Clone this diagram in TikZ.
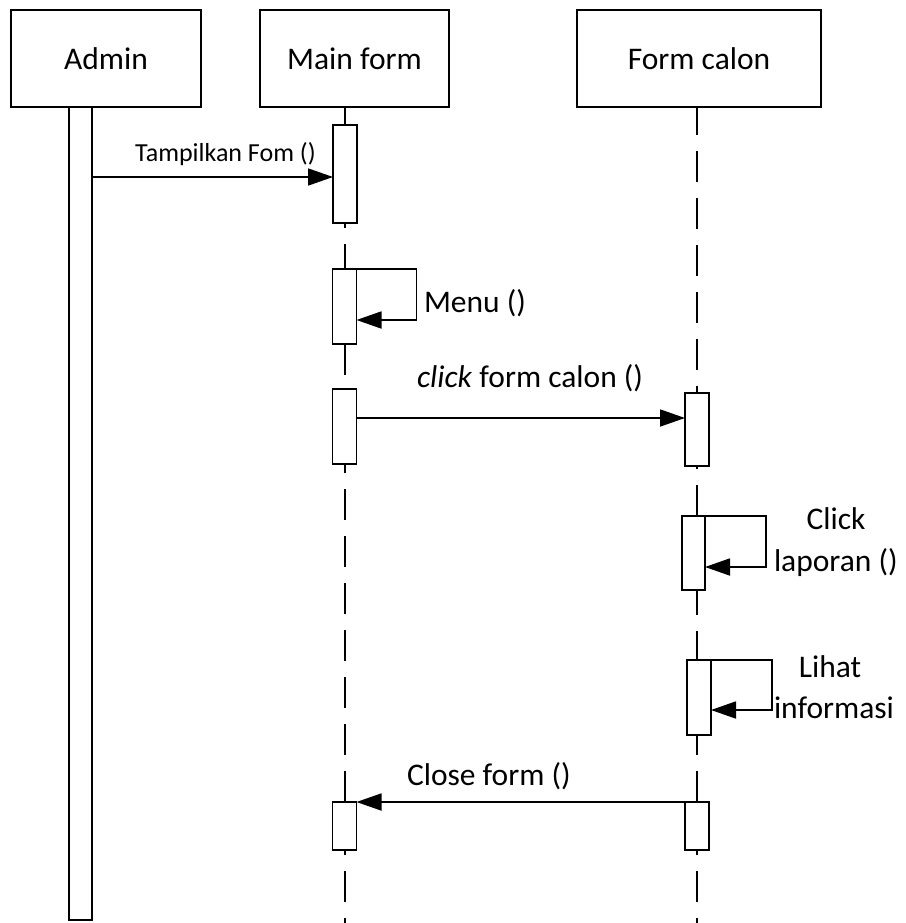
\documentclass[tikz,border=0pt]{standalone}
\usepackage{fontspec}
\setmainfont{Carlito}
\usetikzlibrary{arrows.meta}
\begin{document}
\begin{tikzpicture}[x=1pt,y=-1pt,
  every node/.style={inner sep=0pt, outer sep=0pt},
  hdr/.style={draw, line width=1.8pt, minimum height=97, font=\fontsize{31.5}{38}\selectfont},
  act/.style={draw, fill=white, line width=1.8pt, minimum width=24, anchor=north},
  life/.style={line width=1.8pt},
  dline/.style={line width=1.8pt, dash pattern=on 31pt off 16pt},
  msg/.style={line width=1.8pt, -{Triangle[length=25pt,width=17pt]}},
  lbl/.style={font=\fontsize{31.5}{38}\selectfont, anchor=base west},
  lblc/.style={font=\fontsize{31.5}{38}\selectfont, anchor=base}]
\useasboundingbox (0,0) rectangle (905,923);
% headers
\node[hdr, minimum width=190] (admin) at (106,58.5) {Admin};
\node[hdr, minimum width=189] (main) at (354.5,58.5) {Main form};
\node[hdr, minimum width=244] (calon) at (699,58.5) {Form calon};
% y levels
\coordinate (y1) at (0,177);
\coordinate (y2) at (0,320);
\coordinate (y3) at (0,418);
\coordinate (y4) at (0,567);
\coordinate (y5) at (0,710);
\coordinate (y6) at (0,802);
\coordinate (ybot) at (0,923);
\coordinate (ml) at (345,0);
\coordinate (cl) at (697,0);
% lifelines
\draw[life] (main.south -| ml) -- (ml |- 0,125);
\draw[dline, dash phase=26pt] (ml |- 0,223) -- (ml |- 0,269);
\draw[dline] (ml |- 0,344) -- (ml |- 0,389);
\draw[dline] (ml |- 0,802) -- (ml |- 0,464);
\draw[dline, dash phase=26pt] (ml |- 0,850) -- (ml |- ybot);
\draw[life] (calon.south -| cl) -- (cl |- 0,135);
\draw[dline, dash phase=3pt] (calon.south -| cl) -- (cl |- 0,393);
\draw[dline] (cl |- 0,516) -- (cl |- 0,466);
\draw[dline, dash phase=6pt] (cl |- 0,590) -- (cl |- 0,660);
\draw[dline] (cl |- 0,802) -- (cl |- 0,735);
\draw[dline, dash phase=26pt] (cl |- 0,850) -- (cl |- ybot);
% activations
\node[act, minimum width=23, minimum height=813] (abar) at (80.5,107) {};
\node[act, minimum height=98] (a1) at (345,125) {};
\node[act, minimum height=75] (a2) at (344.5,269) {};
\node[act, minimum height=75] (a3) at (344.5,389) {};
\node[act, minimum height=48] (a4) at (344.5,802) {};
\node[act, minimum height=73] (c1) at (697,393) {};
\node[act, minimum height=74, minimum width=23] (c2) at (693.5,516) {};
\node[act, minimum height=75] (c3) at (699,660) {};
\node[act, minimum height=48] (c4) at (697,802) {};
% messages
\draw[msg] (abar.east |- y1) -- (a1.west |- y1);
\draw[msg] (a2.north east) -- ++(60,0) |- (a2.east |- y2);
\draw[msg] (a3.east |- y3) -- (c1.west |- y3);
\draw[msg] (c2.north east) -- ++(61,0) |- (c2.east |- y4);
\draw[msg] (c3.north east) -- ++(61,0) |- (c3.east |- y5);
\draw[msg] (c4.west |- y6) -- (a4.east |- y6);
% labels
\node[font=\fontsize{26}{30}\selectfont, anchor=base] (l1) at (225.5,161) {Tampilkan Fom ()};
\node[lbl] (l2) at (424,312) {Menu ()};
\node[lbl] (l3) at (417,387) {\textit{click} form calon ()};
\node[lblc] (l4a) at (836,529) {Click};
\node[lbl] (l4b) at (774,571) {laporan ()};
\node[lblc] (l5a) at (830,677) {Lihat};
\node[lbl] (l5b) at (774,718) {informasi};
\node[lbl] (l6) at (407,785) {Close form ()};
\end{tikzpicture}
\end{document}
